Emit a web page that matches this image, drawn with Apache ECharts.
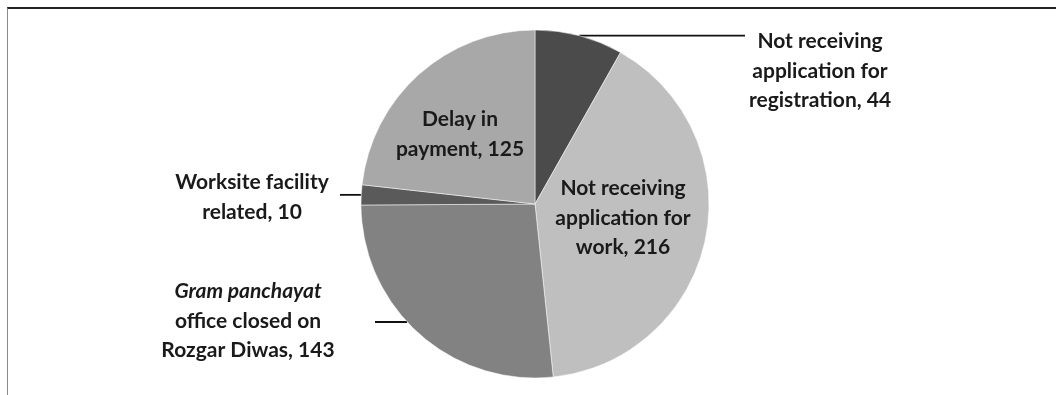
<!DOCTYPE html>
<html>
<head>
<meta charset="utf-8">
<script src="https://cdn.jsdelivr.net/npm/echarts@6/dist/echarts.min.js"></script>
<style>
  html, body { margin: 0; padding: 0; background: #fff; }
  #frame { position: absolute; left: 7px; top: 7px; width: 1049px; height: 388px;
           border-top: 2px solid #222; border-left: 1px solid #8a8a8a; }
  #main { position: absolute; left: 0; top: 0; width: 1056px; height: 395px; }
</style>
</head>
<body>
<div id="frame"></div>
<div id="main"></div>
<script>
// 数据
var categories = [
  'Not receiving application for registration',
  'Not receiving application for work',
  'Gram panchayat office closed on Rozgar Diwas',
  'Worksite facility related',
  'Delay in payment'
];
var values = [44, 216, 143, 10, 125];
var colors = ['#4b4b4b', '#bfbfbf', '#828282', '#5a5a5a', '#a8a8a8'];
// 标签文字（分行）
var labelTexts = [
  'Not receiving\napplication for\nregistration, 44',
  'Not receiving\napplication for\nwork, 216',
  '{i|Gram panchayat}\noffice closed on\nRozgar Diwas, 143',
  'Worksite facility\nrelated, 10',
  'Delay in\npayment, 125'
];
// 标签中心位置 与 引导线终点
var labelPos = [
  { x: 820, y: 71, lineEnd: 745 },
  { x: 623, y: 218 },
  { x: 248, y: 321, lineEnd: 375, lineY: 322 },
  { x: 252, y: 197, lineEnd: 340 },
  { x: 460, y: 134 }
];

var CX = 535, CY = 204, R = 174;
var myChart = echarts.init(document.getElementById('main'));
var data = categories.map(function (c, i) {
  return {
    name: c,
    value: values[i],
    itemStyle: { color: colors[i] },
    label: { formatter: labelTexts[i] },
    labelLine: { show: labelPos[i].lineEnd != null }
  };
});

var option = {
  animation: false,
  series: [{
    type: 'pie',
    center: [CX, CY],
    radius: R,
    startAngle: 90,
    clockwise: true,
    data: data,
    itemStyle: { borderColor: '#ffffff', borderWidth: 0.5 },
    label: {
      show: true,
      position: 'outside',
      color: '#1a1a1a',
      fontFamily: 'Lato',
      fontWeight: 'bold',
      fontSize: 21,
      lineHeight: 29.5,
      align: 'center',
      rich: {
        i: { fontStyle: 'italic', fontWeight: 'bold', fontFamily: 'Lato', fontSize: 21, lineHeight: 29.5, color: '#1a1a1a' }
      }
    },
    labelLine: {
      show: true,
      length: 10,
      length2: 10,
      lineStyle: { color: '#111', width: 1.8 }
    },
    labelLayout: function (params) {
      var p = labelPos[params.dataIndex];
      var res = { x: p.x, y: p.y, align: 'center', verticalAlign: 'middle' };
      if (p.lineEnd != null && params.labelLinePoints) {
        var a = params.labelLinePoints[0];
        var ax = a[0], ay = a[1];
        if (p.lineY != null) {
          // 引导线起点落在饼图边缘上
          ay = p.lineY;
          var dx = Math.sqrt(R * R - (ay - CY) * (ay - CY));
          ax = ax < CX ? CX - dx : CX + dx;
        }
        res.labelLinePoints = [[ax, ay], [(ax + p.lineEnd) / 2, ay], [p.lineEnd, ay]];
      }
      return res;
    }
  }]
};
myChart.setOption(option);
</script>
</body>
</html>
